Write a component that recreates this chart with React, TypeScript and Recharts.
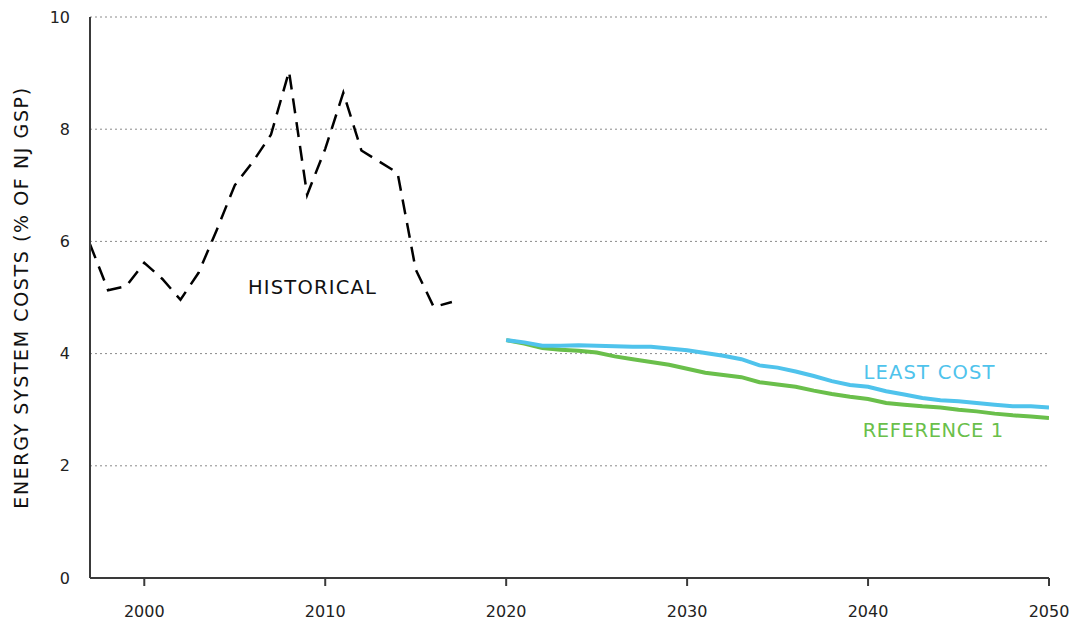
import { LineChart, Line, XAxis, YAxis, CartesianGrid, ReferenceDot } from "recharts";

const FONT = "'DejaVu Sans', 'Open Sans', sans-serif";
const AXIS = "#3a3a3a";
const BLUE = "#4fc3ec";
const GREEN = "#6abf4b";

// historical energy system costs, 1997-2017
const histYears = [1997, 1998, 1999, 2000, 2001, 2002, 2003, 2004, 2005, 2006, 2007, 2008, 2009, 2010, 2011, 2012, 2013, 2014, 2015, 2016, 2017];
const histValues = [5.95, 5.13, 5.2, 5.62, 5.33, 4.96, 5.44, 6.2, 7.0, 7.42, 7.9, 9.03, 6.83, 7.65, 8.65, 7.62, 7.42, 7.22, 5.5, 4.83, 4.92];

// projections, 2020-2050
const projYears = Array.from({ length: 31 }, (_, i) => 2020 + i);
const leastCost = [4.24, 4.2, 4.14, 4.14, 4.15, 4.14, 4.13, 4.12, 4.12, 4.09, 4.06, 4.01, 3.96, 3.9, 3.79, 3.75, 3.68, 3.6, 3.51, 3.44, 3.41, 3.33, 3.27, 3.21, 3.17, 3.15, 3.12, 3.09, 3.06, 3.06, 3.04];
const reference1 = [4.24, 4.18, 4.1, 4.07, 4.05, 4.02, 3.95, 3.9, 3.85, 3.8, 3.73, 3.66, 3.62, 3.58, 3.49, 3.45, 3.41, 3.34, 3.28, 3.23, 3.19, 3.12, 3.09, 3.06, 3.04, 3.0, 2.97, 2.93, 2.9, 2.88, 2.85];

const xTicks = [2000, 2010, 2020, 2030, 2040, 2050];
const yTicks = [0, 2, 4, 6, 8, 10];

const histData = histYears.map((year, i) => ({ year, hist: histValues[i] }));
const projData = projYears.map((year, i) => ({ year, least: leastCost[i], ref: reference1[i] }));

const labelStyle = (fill: string, spacing = 1.2) => ({ fill, fontSize: 19.5, fontFamily: FONT, letterSpacing: spacing });

export default function App() {
  return (
    <div style={{ position: "absolute", left: 0, top: 0, width: 1074, height: 621, background: "#fff" }}>
      <LineChart
        width={1074}
        height={621}
        margin={{ top: 17, right: 25, bottom: 0, left: 0 }}
        style={{ fontFamily: FONT }}
      >
        <CartesianGrid vertical={false} stroke="#8a8a8a" strokeDasharray="2 3" />
        <XAxis
          type="number"
          dataKey="year"
          domain={[1997, 2050]}
          ticks={xTicks}
          allowDataOverflow
          height={43}
          tickSize={8}
          tickMargin={20}
          stroke={AXIS}
          strokeWidth={2}
          tick={{ fill: "#222", fontSize: 16 }}
        />
        <YAxis
          type="number"
          domain={[0, 10]}
          ticks={yTicks}
          width={90}
          tickLine={false}
          tickMargin={14}
          stroke={AXIS}
          strokeWidth={2}
          tick={{ fill: "#222", fontSize: 16 }}
          label={{
            value: "ENERGY SYSTEM COSTS (% OF NJ GSP)",
            angle: -90,
            position: "center",
            dx: -24,
            style: { fill: "#111", fontSize: 19, fontFamily: FONT, letterSpacing: 1.6 },
          }}
        />
        <Line
          data={histData}
          dataKey="hist"
          type="linear"
          stroke="#000"
          strokeWidth={2.5}
          strokeDasharray="15 9"
          dot={false}
          activeDot={false}
          isAnimationActive={false}
        />
        <Line
          data={projData}
          dataKey="ref"
          type="linear"
          stroke={GREEN}
          strokeWidth={4}
          dot={false}
          activeDot={false}
          isAnimationActive={false}
        />
        <Line
          data={projData}
          dataKey="least"
          type="linear"
          stroke={BLUE}
          strokeWidth={4}
          dot={false}
          activeDot={false}
          isAnimationActive={false}
        />
        <ReferenceDot x={2009.3} y={5.19} r={0} stroke="none" fill="none"
          label={{ value: "HISTORICAL", position: "center", style: labelStyle("#111") }} />
        <ReferenceDot x={2043.4} y={3.67} r={0} stroke="none" fill="none"
          label={{ value: "LEAST COST", position: "center", style: labelStyle(BLUE) }} />
        <ReferenceDot x={2043.6} y={2.64} r={0} stroke="none" fill="none"
          label={{ value: "REFERENCE 1", position: "center", style: labelStyle(GREEN, 0.6) }} />
      </LineChart>
    </div>
  );
}
